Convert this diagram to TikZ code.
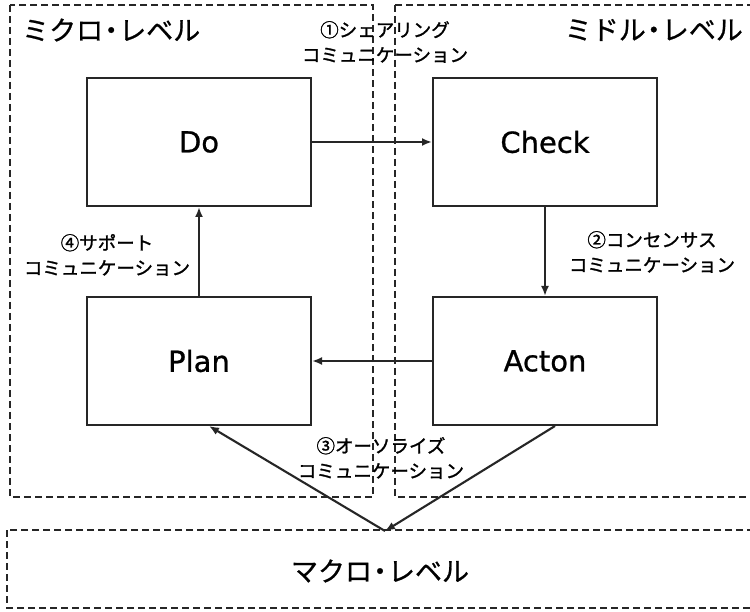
\documentclass[tikz,border=0pt]{standalone}
\usepackage{fontspec}
\setmainfont{Noto Sans CJK JP}
\newfontfamily\jpb[FakeBold=1.3]{Noto Sans CJK JP}
\newfontfamily\jpm[FakeBold=0.8]{Noto Sans CJK JP}
\newfontfamily\latn[FakeBold=0.8]{DejaVu Sans}
\usetikzlibrary{arrows.meta,calc}
\newcommand{\nakaguro}{\kern-5.5pt・\kern-5.5pt}
\begin{document}
\begin{tikzpicture}[x=1pt,y=-1pt,
  level/.style={draw=black!85,line width=1.9pt,dash pattern=on 7pt off 4pt},
  stepbox/.style={draw=black!85,line width=2pt,minimum width=224pt,minimum height=128pt,font=\latn\fontsize{29}{32}\selectfont,inner sep=0pt},
  conn/.style={draw=black!85,line width=2.1pt,-{Latex[length=10pt,width=8pt]}},
  lbl/.style={align=center,font=\jpb\fontsize{18.5}{25}\selectfont,inner sep=0pt},
  ttl/.style={font=\jpm\fontsize{27}{30}\selectfont,inner sep=0pt}]
\useasboundingbox (0,0) rectangle (750,612);
\clip (0,0) rectangle (750,612);
\fill[white] (0,0) rectangle (750,612);
% level regions
\draw[level] (10,5) rectangle (373,497);
\draw[level] (395,5) rectangle (770,497);
\draw[level] (7,530) rectangle (770,608);
\node[ttl,anchor=west] (micro) at (22,30) {ミクロ\nakaguro レベル};
\node[ttl,anchor=east] (mid) at (743,30) {ミドル\nakaguro レベル};
\node[ttl] (macro) at (380,571) {マクロ\nakaguro レベル};
\coordinate (mp) at (385,531);
% step boxes
\node[stepbox] (do) at (199,142) {Do};
\node[stepbox] (check) at (545,142) {Check};
\node[stepbox] (plan) at (199,361) {Plan};
\node[stepbox] (act) at (545,361) {Acton};
\coordinate (as) at ($(act.south)+(10,0)$);
\coordinate (ps) at ($(plan.south)+(10,0)$);
% connectors
\draw[conn] (do) -- (check);
\draw[conn] (check) -- (act);
\draw[conn] (act) -- (plan);
\draw[conn] (plan) -- (do);
\draw[conn] (as) -- (mp);
\draw[conn] (mp) -- (ps);
% labels
\node[lbl] (l1) at (385,42) {①シェアリング\\コミュニケーション};
\node[lbl] (l2) at (652,252) {②コンセンサス\\コミュニケーション};
\node[lbl] (l3) at (381,458) {③オーソライズ\\コミュニケーション};
\node[lbl] (l4) at (107,255) {④サポート\\コミュニケーション};
\end{tikzpicture}
\end{document}
